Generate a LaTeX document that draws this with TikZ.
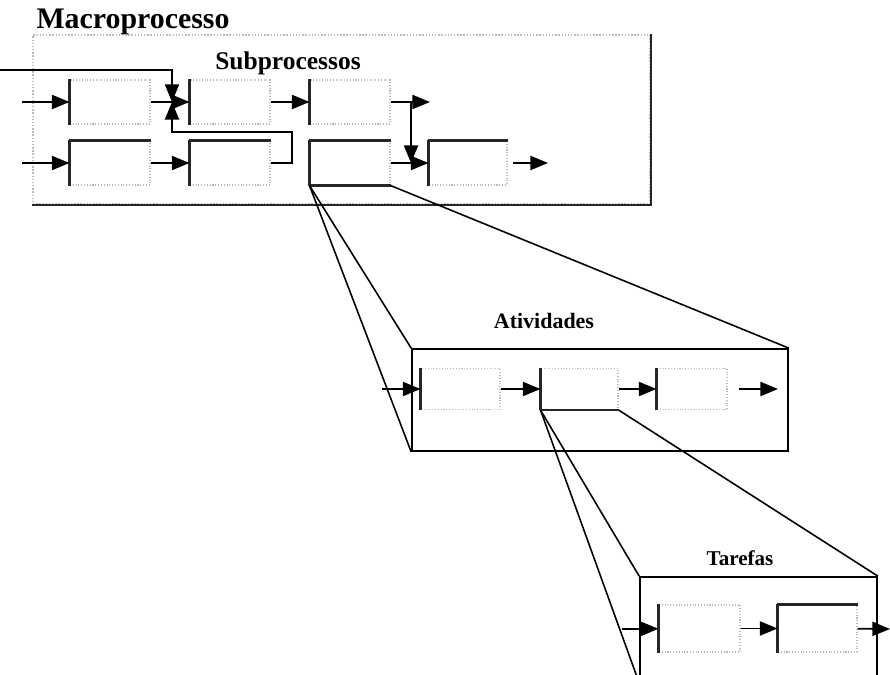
\documentclass[tikz,border=0pt]{standalone}
\usepackage{fontspec}
\setmainfont{Liberation Serif}
\usetikzlibrary{arrows.meta, positioning}

\begin{document}
\begin{tikzpicture}[
    x=0.02cm, y=-0.02cm,
    >={Triangle[length=10pt, width=8pt]},
    title/.style={font=\bfseries\fontsize{17}{20}\selectfont, inner sep=0pt},
    heading/.style={font=\bfseries\fontsize{14.5}{17}\selectfont, inner sep=0pt},
    smallheading/.style={font=\bfseries\fontsize{12.5}{15}\selectfont, inner sep=0pt},
    frame/.style={draw=gray!55, densely dotted, line width=0.8pt, inner sep=0pt},
    front/.style={draw, line width=1pt, inner sep=0pt},
    proc/.style={draw=gray!55, densely dotted, line width=0.6pt, inner sep=0pt, minimum width=1.6cm, minimum height=0.88cm},
    edge/.style={line width=1.2pt, black!85},
    flow/.style={->, line width=1pt},
    zoomline/.style={line width=0.9pt}
]
\useasboundingbox (0,0) rectangle (890,675);
\clip (0,0) rectangle (890,675);

% Macroprocesso
\node[title] (macrotitle) at (133,22) {Macroprocesso};
\node[frame, minimum width=12.34cm, minimum height=3.38cm] (macro) at (341.5,119.5) {};
\draw[edge] (macro.north east) -- (macro.south east) -- (macro.south west);
\node[heading] (subtitle) at (288,63) {Subprocessos};

% Subprocessos
\node[proc] (a1) at (110,102) {};
\node[proc] (b1) at (230,102) {};
\node[proc] (c1) at (350,102) {};
\node[proc] (a2) at (110,163) {};
\node[proc] (b2) at (230,163) {};
\node[proc] (c2) at (350,163) {};
\node[proc, minimum width=1.56cm] (d2) at (468,163) {};
\foreach \n in {a1,b1,c1,a2,b2,c2,d2}
    \draw[edge] (\n.north west) -- (\n.south west);
\foreach \n in {a2,b2,c2,d2}
    \draw[edge] (\n.north west) -- (\n.north east);
\draw[edge] (c2.south west) -- (c2.south east);

\coordinate (in1) at (22,102);
\coordinate (in2) at (22,163);
\coordinate (out1) at (430,102);
\coordinate (out2) at (548,163);
\coordinate (split) at (411,102);
\coordinate (join) at (411,163);
\coordinate (merge) at (172,102);
\coordinate (back) at (0,70);

\draw[flow] (in1) -- (a1);
\draw[flow] (a1) -- (b1);
\draw[flow] (b1) -- (c1);
\draw[flow] (c1) -- (out1);
\draw[flow] (split) -- (join);
\draw[flow] (in2) -- (a2);
\draw[flow] (a2) -- (b2);
\draw[flow] (c2) -- (d2);
\draw[flow, shorten <=3pt] (d2) -- (out2);
\draw[flow] (back) -| (merge);
\draw[flow] (b2.east) -| (292,132) -| (merge);

% Atividades
\node[front, minimum width=7.52cm, minimum height=2.04cm] (ativ) at (600,400) {};
\node[smallheading] (ativtitle) at (544,321) {Atividades};
\node[proc, minimum width=1.58cm, minimum height=0.82cm] (p1) at (460.5,389) {};
\node[proc, minimum width=1.54cm, minimum height=0.82cm] (p2) at (579.5,389) {};
\node[proc, minimum width=1.4cm, minimum height=0.82cm] (p3) at (692,389) {};
\foreach \n in {p1,p2,p3}
    \draw[edge] (\n.north west) -- (\n.south west);
\draw[edge] (p2.south west) -- (p2.south east);

\coordinate (pin) at (382,389);
\coordinate (pout) at (778,389);
\draw[flow] (pin) -- (p1);
\draw[flow] (p1) -- (p2);
\draw[flow] (p2) -- (p3);
\draw[flow, shorten <=0.22cm] (p3) -- (pout);

\draw[zoomline] (c2.south west) -- (ativ.north west);
\draw[zoomline] (c2.south west) -- (ativ.south west);
\draw[zoomline] (c2.south east) -- (ativ.north east);

% Tarefas
\node[front, minimum width=4.74cm, minimum height=2.1cm] (tar) at (758.5,629.5) {};
\node[smallheading, font=\bfseries\fontsize{12}{14}\selectfont] (tartitle) at (740,558) {Tarefas};
\node[proc, minimum width=1.62cm, minimum height=0.94cm] (t1) at (699.5,628.5) {};
\node[proc, minimum width=1.58cm, minimum height=0.94cm] (t2) at (817.5,628.5) {};
\foreach \n in {t1,t2}
    \draw[edge] (\n.north west) -- (\n.south west);
\draw[edge] (t2.north west) -- (t2.north east);

\coordinate (tin) at (622,629);
\coordinate (tout) at (890,629);
\draw[flow] (tin) -- (t1);
\draw[flow] (t1) -- (t2);
\draw[flow] (t2) -- (tout);

\draw[zoomline] (p2.south west) -- (tar.north west);
\draw[zoomline] (p2.south west) -- (tar.south west);
\draw[zoomline] (p2.south east) -- (tar.north east);

\end{tikzpicture}
\end{document}
